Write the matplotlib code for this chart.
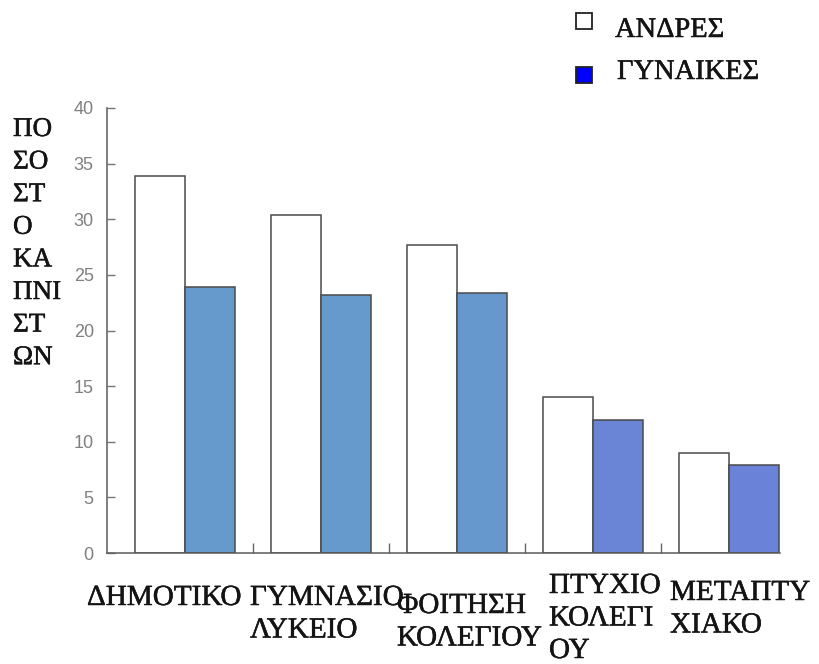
import matplotlib
matplotlib.use("Agg")
import matplotlib.pyplot as plt
import matplotlib.patheffects as pe
from matplotlib.patches import Rectangle
import numpy as np

# Data
categories = ["ΔΗΜΟΤΙΚΟ", "ΓΥΜΝΑΣΙΟ\nΛΥΚΕΙΟ", "ΦΟΙΤΗΣΗ\nΚΟΛΕΓΙΟΥ",
              "ΠΤΥΧΙΟ\nΚΟΛΕΓΙ\nΟΥ", "ΜΕΤΑΠΤΥ\nΧΙΑΚΟ"]
men = [33.9, 30.4, 27.7, 14.0, 9.0]
women = [23.9, 23.2, 23.4, 12.0, 7.9]
series_names = ["ΑΝΔΡΕΣ", "ΓΥΝΑΙΚΕΣ"]
y_label = "ΠΟ\nΣΟ\nΣΤ\nΟ\nΚΑ\nΠΝΙ\nΣΤ\nΩΝ"
y_ticks = [0, 5, 10, 15, 20, 25, 30, 35, 40]

W, H = 819, 664
fig = plt.figure(figsize=(W / 100, H / 100), dpi=100)
fig.patch.set_facecolor("white")

def fx(px):
    return px / W

def fy(py):
    return 1 - py / H

ax = fig.add_axes([fx(107), fy(553), fx(780) - fx(107), fy(108) - fy(553)])

serif = ["Liberation Serif", "DejaVu Serif"]
text_color = "#141414"
heavy = [pe.withStroke(linewidth=0.35, foreground=text_color)]
edge = "#4a4a4a"
women_colors = ["#6699cc", "#6699cc", "#6698cd", "#6a84d6", "#6a82d8"]

x = np.arange(len(categories))
w = 0.368
ax.bar(x - w / 2, men, width=w, color="white", edgecolor=edge, linewidth=1.1)
ax.bar(x + w / 2, women, width=w, color=women_colors, edgecolor=edge, linewidth=1.1)

ax.set_xlim(-0.574, 4.375)
ax.set_ylim(0, 40)

for s in ["top", "right"]:
    ax.spines[s].set_visible(False)
for s in ["left", "bottom"]:
    ax.spines[s].set_color("#5a5a5a")
    ax.spines[s].set_linewidth(1.1)

ax.set_yticks(y_ticks)
ax.tick_params(axis="y", direction="in", length=6, width=1.0, color="#777777",
               labelcolor="#808080", labelsize=13, pad=9.5)
for lab in ax.get_yticklabels():
    lab.set_fontfamily(["Liberation Sans", "DejaVu Sans"])

# group separators along the baseline
ax.set_xticks([0.5, 1.5, 2.5, 3.5])
ax.set_xticklabels([])
ax.tick_params(axis="x", direction="in", length=7, width=1.0, color="#666666")

# Category labels, placed line by line (left edge, first baseline in pixels)
label_left = [87, 250, 397, 549, 670]
label_base = [605, 605, 613, 593, 600]
pitch = 32.5
for cat, lx, by in zip(categories, label_left, label_base):
    for i, line in enumerate(cat.split("\n")):
        fig.text(fx(lx), fy(by + i * pitch), line, family=serif, fontsize=21,
                 color=text_color, ha="left", va="baseline", path_effects=heavy)

# Vertical axis title, one short line per row
for i, line in enumerate(y_label.split("\n")):
    fig.text(fx(13), fy(136 + i * 32.6), line, family=serif, fontsize=19.5,
             color=text_color, ha="left", va="baseline", path_effects=heavy)

# Legend
fig.patches.append(Rectangle((fx(576), fy(29)), fx(16), fy(13) - fy(29),
                             transform=fig.transFigure, facecolor="white",
                             edgecolor="#222222", linewidth=1.3))
fig.patches.append(Rectangle((fx(576), fy(83)), fx(16), fy(67) - fy(83),
                             transform=fig.transFigure, facecolor="#0000ff",
                             edgecolor="#222222", linewidth=1.3))
fig.text(fx(615), fy(37), series_names[0], family=serif, fontsize=20.5,
         color=text_color, ha="left", va="baseline", path_effects=heavy)
fig.text(fx(617), fy(79), series_names[1], family=serif, fontsize=20.5,
         color=text_color, ha="left", va="baseline", path_effects=heavy)

fig.savefig("out.png", dpi=100, facecolor="white")
